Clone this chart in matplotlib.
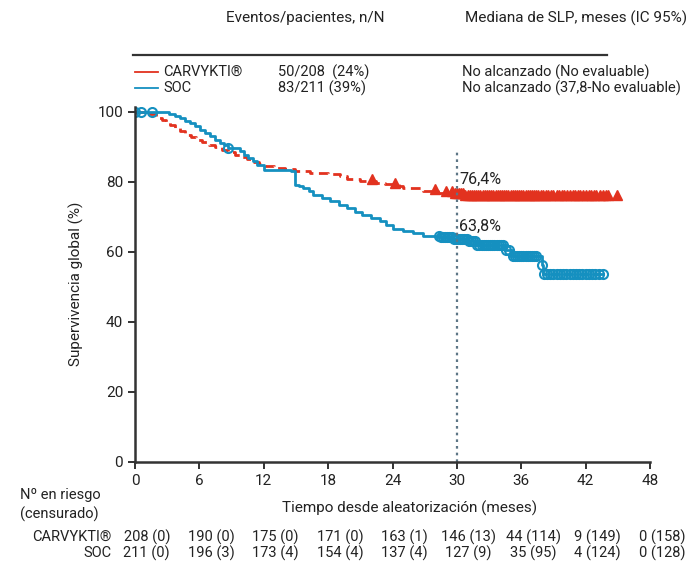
import matplotlib
matplotlib.use("Agg")
import matplotlib.pyplot as plt
import numpy as np

plt.rcParams['font.family'] = ['Roboto', 'DejaVu Sans']

RED = '#e2321f'
BLUE = '#1590c0'
DARK = '#222222'

# Kaplan-Meier steps (months, % survival)
red_t = [0, 1.4, 2.0, 2.5, 2.9, 3.3, 3.7, 4.2, 4.7, 5.2, 5.7, 6.2, 6.9, 7.5,
         8.1, 8.7, 9.3, 9.8, 10.4, 11.0, 11.6, 12.1, 13.0, 14.0, 14.9, 16.3,
         18.0, 19.1, 19.8, 21.0, 22.5, 23.3, 24.6, 25.0, 26.8, 28.2, 29.8, 30.8]
red_s = [100, 99.3, 98.3, 97.7, 97.0, 96.3, 95.5, 94.5, 93.5, 92.8, 92.0, 91.3,
         90.6, 89.9, 89.2, 88.5, 87.8, 87.1, 86.4, 85.8, 85.2, 84.6, 84.1, 83.7,
         83.2, 82.6, 82.2, 81.7, 80.8, 80.3, 79.8, 79.3, 78.8, 78.3, 77.5, 76.9,
         76.4, 75.8]
red_end = 44.9

blue_t = [0, 3.2, 3.7, 4.2, 4.7, 5.1, 5.6, 6.1, 6.5, 7.0, 7.5, 7.9, 8.3, 8.7,
          9.8, 10.2, 10.5, 11.0, 11.4, 12.0, 14.5, 14.9, 15.3, 15.7, 16.2, 16.6,
          17.4, 18.2, 19.0, 19.8, 20.5, 21.2, 22.0, 22.8, 23.4, 24.0, 25.0, 25.9,
          26.8, 28.5, 29.6, 31.0, 31.8, 34.5, 35.2, 37.9, 38.0]
blue_s = [100, 99.5, 98.9, 98.3, 97.5, 96.8, 95.9, 94.9, 94.0, 93.0, 92.0, 91.0,
          90.4, 89.8, 88.7, 87.8, 86.9, 85.9, 84.9, 83.4, 83.0, 79.1, 78.7, 78.3,
          77.3, 76.3, 75.3, 74.4, 73.4, 72.5, 71.5, 70.6, 69.6, 68.7, 67.6, 66.5,
          65.9, 65.3, 64.6, 64.2, 63.8, 63.0, 62.0, 60.6, 58.9, 56.3, 53.7]
blue_end = 43.6

# censoring times
red_cens = [22.1, 24.2, 28.0, 29.0, 29.5, 29.8, 30.0, 30.2, 30.4, 30.6, 30.8,
            31.0, 31.2, 31.4, 31.6, 31.8, 32.0, 32.2, 32.4, 32.6, 32.8, 33.0,
            33.2, 33.4, 33.6, 33.8, 34.0, 34.2, 34.4, 34.6, 34.8, 35.0, 35.2,
            35.4, 35.6, 35.8, 36.0, 36.2, 36.4, 36.6, 36.8, 37.0, 37.2, 37.4,
            37.6, 37.8, 38.0, 38.3, 38.5, 38.8, 39.0, 39.3, 39.5, 39.8, 40.0,
            40.3, 40.5, 40.8, 41.0, 41.3, 41.5, 41.8, 42.0, 42.3, 42.5, 42.8,
            43.0, 43.3, 43.6, 43.9, 44.1, 44.9]
blue_cens = [0.0, 0.6, 1.6, 8.7, 28.3, 28.5, 28.7, 28.9, 29.1, 29.3, 29.5, 29.7,
             29.9, 30.1, 30.3, 30.5, 30.7, 30.9, 31.1, 31.3, 31.5, 31.7, 31.9,
             32.1, 32.3, 32.5, 32.7, 32.9, 33.1, 33.3, 33.5, 33.7, 33.9, 34.1,
             34.3, 34.6, 34.9, 35.2, 35.4, 35.6, 35.8, 36.0, 36.2, 36.4, 36.6,
             36.8, 37.0, 37.2, 37.4, 37.9, 38.1, 38.4, 38.7, 39.0, 39.3, 39.6,
             39.9, 40.2, 40.5, 40.8, 41.1, 41.4, 41.7, 42.0, 42.3, 42.6, 42.9,
             43.2, 43.6]

xticks = [0, 6, 12, 18, 24, 30, 36, 42, 48]
yticks = [0, 20, 40, 60, 80, 100]
risk_carv = ['208 (0)', '190 (0)', '175 (0)', '171 (0)', '163 (1)', '146 (13)',
             '44 (114)', '9 (149)', '0 (158)']
risk_soc = ['211 (0)', '196 (3)', '173 (4)', '154 (4)', '137 (4)', '127 (9)',
            '35 (95)', '4 (124)', '0 (128)']


def at(t, s, times):
    idx = np.searchsorted(t, times, side='right') - 1
    return np.array(s)[idx]


fig = plt.figure(figsize=(6.97, 5.64), dpi=100)
ax = fig.add_axes([0.1937, 0.181, 0.7389, 0.630])

# curves
ax.step(red_t + [red_end], red_s + [red_s[-1]], where='post', color=RED,
        lw=2.0, ls=(0, (3.5, 2)))
ax.step(blue_t + [blue_end], blue_s + [blue_s[-1]], where='post', color=BLUE,
        lw=2.0)
ax.plot(red_cens, at(red_t, red_s, red_cens) + 0.4, ls='none', marker='^',
        ms=7.5, color=RED, mec=RED)
ax.plot(blue_cens, at(blue_t, blue_s, blue_cens), ls='none', marker='o',
        ms=6.5, mfc='none', mec=BLUE, mew=1.5)

ax.axvline(30, ymin=0, ymax=0.88, color='#5d7686', ls=(0, (1.2, 1.8)), lw=1.6)
ax.text(30.2, 80.6, '76,4%', fontsize=11.5, color=DARK, ha='left', va='center')
ax.text(30.2, 67.2, '63,8%', fontsize=11.5, color=DARK, ha='left', va='center')

ax.set_xlim(0, 48)
ax.set_ylim(0, 101.5)
ax.set_xticks(xticks)
ax.set_yticks(yticks)
ax.tick_params(labelsize=11, colors=DARK, length=5, width=1.3)
for side in ['top', 'right']:
    ax.spines[side].set_visible(False)
for side in ['left', 'bottom']:
    ax.spines[side].set_linewidth(1.8)
    ax.spines[side].set_color('#333333')
ax.set_ylabel('Supervivencia global (%)', fontsize=11, color=DARK, labelpad=10)

# header / legend table
fig.text(305 / 697, 1 - 18 / 564, 'Eventos/pacientes, n/N', fontsize=11,
         color=DARK, ha='center', va='center')
fig.text(465 / 697, 1 - 18 / 564, 'Mediana de SLP, meses (IC 95%)', fontsize=11,
         color=DARK, ha='left', va='center')
fig.add_artist(plt.Line2D([133 / 697, 607 / 697], [1 - 55 / 564, 1 - 55 / 564],
                          color='#333333', lw=1.6))
rows = [(RED, 'CARVYKTI®', '50/208  (24%)', 'No alcanzado (No evaluable)', 72),
        (BLUE, 'SOC', '83/211 (39%)', 'No alcanzado (37,8-No evaluable)', 88)]
for col, name, ev, med, py in rows:
    y = 1 - py / 564
    fig.add_artist(plt.Line2D([135 / 697, 158 / 697], [y, y], color=col, lw=1.3))
    fig.text(163 / 697, y, name, fontsize=10.5, color=DARK, va='center')
    fig.text(278 / 697, y, ev, fontsize=10.5, color=DARK, va='center')
    fig.text(462 / 697, y, med, fontsize=10.5, color=DARK, va='center')

# x label and risk table
fig.text(410 / 697, 1 - 508 / 564, 'Tiempo desde aleatorización (meses)',
         fontsize=11, color=DARK, ha='center', va='center')
fig.text(20 / 697, 1 - 495 / 564, 'Nº en riesgo', fontsize=10.5, color=DARK,
         va='center')
fig.text(20 / 697, 1 - 514 / 564, '(censurado)', fontsize=10.5, color=DARK,
         va='center')
for label, vals, py in [('CARVYKTI®', risk_carv, 537), ('SOC', risk_soc, 553)]:
    y = 1 - py / 564
    fig.text(112 / 697, y, label, fontsize=10.5, color=DARK, ha='right',
             va='center')
    for xt, v in zip(xticks, vals):
        xf = fig.transFigure.inverted().transform(
            ax.transData.transform((xt + 1.1, 0)))[0]
        fig.text(xf, y, v, fontsize=10.5, color=DARK, ha='center', va='center')

fig.savefig('out.png', dpi=100)
